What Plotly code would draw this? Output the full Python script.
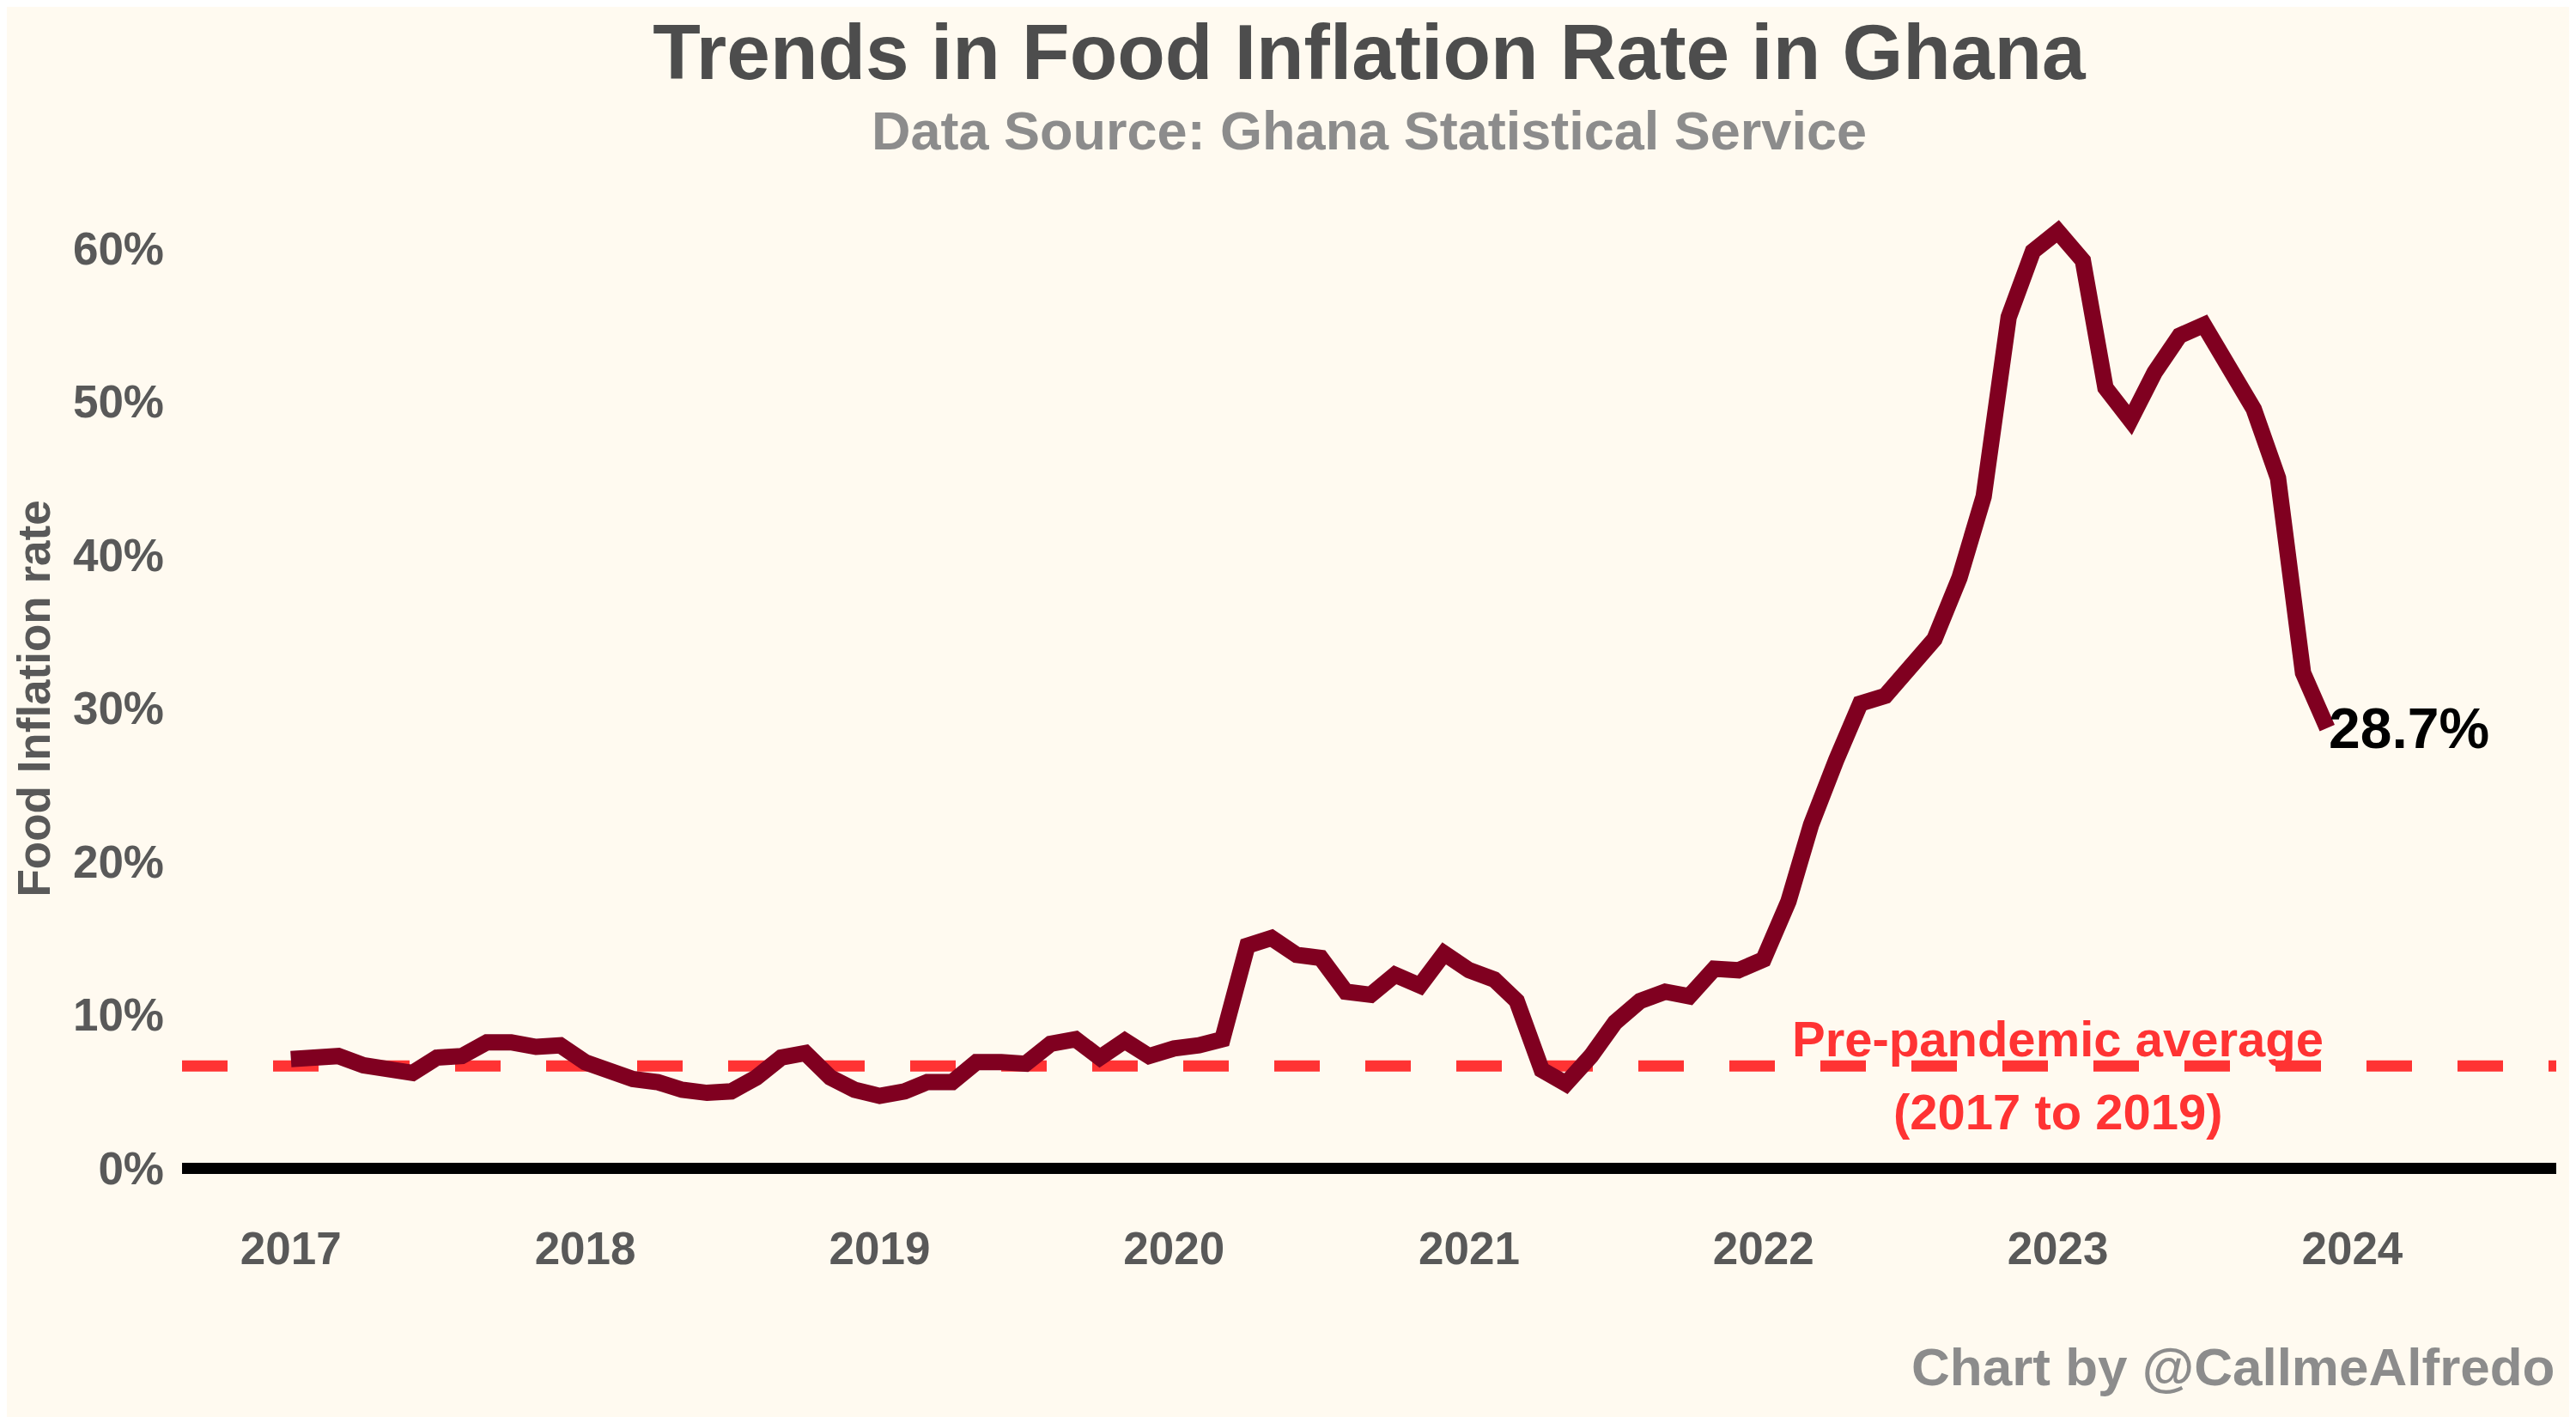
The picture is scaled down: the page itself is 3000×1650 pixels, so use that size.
import pandas as pd
import plotly.graph_objects as go

# monthly food inflation (%), Jan..Dec of each year
food_2017 = [7.1, 7.2, 7.3, 6.7, 6.4, 6.2, 7.2, 7.3, 8.2, 8.2, 7.9, 8.0]
food_2018 = [6.9, 6.2, 5.8, 5.6, 5.1, 4.9, 5.0, 5.9, 7.2, 7.5, 5.9, 5.1]
food_2019 = [4.7, 5.0, 5.6, 5.6, 6.9, 6.9, 6.8, 8.1, 8.4, 7.2, 8.3, 7.3]
food_2020 = [7.8, 8.0, 8.4, 14.5, 15.0, 13.9, 13.7, 11.5, 11.3, 12.6, 11.9, 14.0]
food_2021 = [12.9, 12.3, 10.9, 6.4, 5.5, 7.3, 9.5, 10.9, 11.5, 11.2, 13.0, 12.9]
food_2022 = [13.6, 17.4, 22.4, 26.6, 30.3, 30.8, 32.5, 34.5, 38.5, 43.8, 55.5, 59.8]
food_2023 = [61.1, 59.2, 50.9, 48.8, 51.9, 54.3, 55.0, 52.0, 49.5, 45.0, 32.3, 28.7]

years = [2017, 2018, 2019, 2020, 2021, 2022, 2023]
tick_years = [2017, 2018, 2019, 2020, 2021, 2022, 2023, 2024]
y_ticks = [0, 10, 20, 30, 40, 50, 60]

values = food_2017 + food_2018 + food_2019 + food_2020 + food_2021 + food_2022 + food_2023
dates = pd.date_range(f"{years[0]}-01-01", periods=len(values), freq="MS")

pre_pandemic = food_2017 + food_2018 + food_2019
pre_avg = sum(pre_pandemic) / len(pre_pandemic)

BG = "floralwhite"
FONT = "Liberation Sans, Arial, sans-serif"
RED = "#ff3333"

fig = go.Figure()

fig.add_trace(
    go.Scatter(
        x=dates,
        y=values,
        mode="lines",
        line=dict(color="#800020", width=19),
        showlegend=False,
    )
)

# pre-pandemic average reference line
fig.add_hline(y=pre_avg, line=dict(color=RED, width=13, dash="53px,53px"), layer="below")

# label for the last point
fig.add_annotation(
    x=dates[-1],
    y=values[-1],
    text=f"{values[-1]:.1f}%",
    showarrow=False,
    xanchor="left",
    yanchor="middle",
    font=dict(family=FONT, size=66, color="black", weight="bold"),
)

fig.add_annotation(
    x=f"{tick_years[-2]}-01-01",
    y=pre_avg,
    text="Pre-pandemic average",
    showarrow=False,
    xanchor="center",
    yanchor="middle",
    yshift=32,
    font=dict(family=FONT, size=58, color=RED, weight="bold"),
)
fig.add_annotation(
    x=f"{tick_years[-2]}-01-01",
    y=pre_avg,
    text=f"({years[0]} to {years[2]})",
    showarrow=False,
    xanchor="center",
    yanchor="middle",
    yshift=-53,
    font=dict(family=FONT, size=58, color=RED, weight="bold"),
)

# y axis title
fig.add_annotation(
    xref="paper", yref="paper",
    x=-0.0625, y=0.512,
    text="Food Inflation rate",
    textangle=-90,
    showarrow=False,
    xanchor="center",
    yanchor="middle",
    font=dict(family=FONT, size=53, color="#595959", weight="bold"),
)

# subtitle
fig.add_annotation(
    xref="paper", yref="paper",
    x=0.5, y=1.0745,
    text="Data Source: Ghana Statistical Service",
    showarrow=False,
    xanchor="center",
    yanchor="middle",
    font=dict(family=FONT, size=63, color="#8c8c8c", weight="bold"),
)

# credit
fig.add_annotation(
    xref="paper", yref="paper",
    x=1.0, y=-0.1506,
    text="Chart by @CallmeAlfredo",
    showarrow=False,
    xanchor="right",
    yanchor="middle",
    font=dict(family=FONT, size=62, color="#8c8c8c", weight="bold"),
)

# the page body adds an 8px offset, so margins are shifted to compensate
fig.update_layout(
    width=3000,
    height=1650,
    margin=dict(l=204, r=31, t=232, b=243),
    paper_bgcolor=BG,
    plot_bgcolor=BG,
    title=dict(
        text="Trends in Food Inflation Rate in Ghana",
        x=0.5,
        xref="paper",
        y=1 - 52 / 1650,
        yanchor="middle",
        font=dict(family=FONT, size=91, color="#4d4d4d", weight="bold"),
    ),
    xaxis=dict(
        type="date",
        range=["2016-08-19", "2024-09-10"],
        tickvals=[f"{y}-01-01" for y in tick_years],
        ticktext=[str(y) for y in tick_years],
        showgrid=False,
        zeroline=False,
        showline=False,
        ticks="",
        ticklabelstandoff=3,
        tickfont=dict(family=FONT, size=53, color="#595959", weight="bold"),
    ),
    yaxis=dict(
        range=[-3.08, 62.75],
        tickvals=y_ticks,
        ticktext=[f"{v}%" for v in y_ticks],
        showgrid=False,
        zeroline=True,
        zerolinecolor="black",
        zerolinewidth=13,
        showline=False,
        ticks="",
        ticklabelstandoff=20,
        tickfont=dict(family=FONT, size=53, color="#595959", weight="bold"),
    ),
)

fig.write_html("out.html")
